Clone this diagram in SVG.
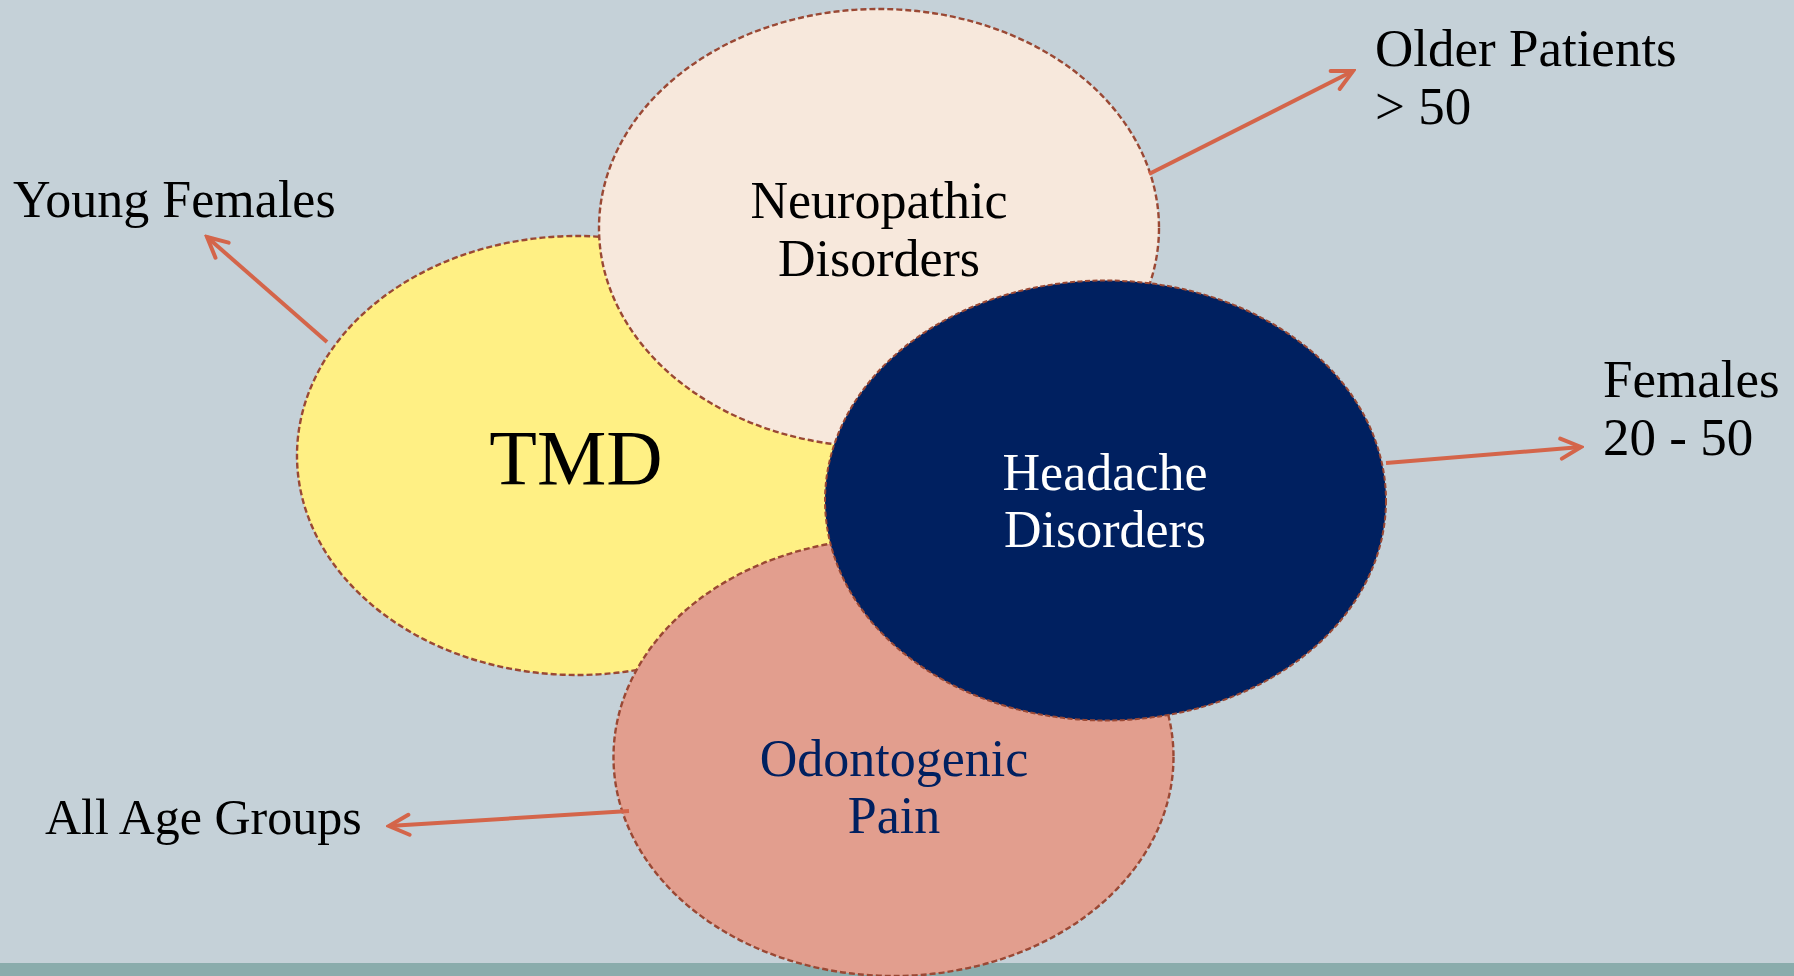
<svg xmlns="http://www.w3.org/2000/svg" width="1794" height="976" viewBox="0 0 1794 976">
  <defs>
    <style>
      .ell { stroke: #9a4834; stroke-width: 2.4; stroke-dasharray: 6 3; }
      .txt { font-family: "Liberation Serif", "Times New Roman", serif; font-size: 52px; fill: #000; }
      .mid { text-anchor: middle; }
      .conn { stroke: #d4654a; stroke-width: 4; fill: none; marker-end: url(#arr); }
    </style>
    <marker id="arr" markerUnits="userSpaceOnUse" markerWidth="26" markerHeight="26" viewBox="0 0 26 26" refX="23" refY="13" orient="auto">
      <path d="M3,3 L23,13 L3,23" fill="none" stroke="#d4654a" stroke-width="4" stroke-linecap="round" stroke-linejoin="miter"/>
    </marker>
  </defs>
  <rect x="0" y="0" width="1794" height="976" fill="#c5d1d8"/>
  <rect x="0" y="963" width="1794" height="13" fill="#8aacac"/>

  <g id="tmd">
    <ellipse class="ell" cx="577" cy="455.5" rx="280" ry="219.5" fill="#fff084"/>
    <text class="txt mid" x="576" y="484" style="font-size:78px">TMD</text>
  </g>
  <g id="neuropathic">
    <ellipse class="ell" cx="879" cy="228" rx="280" ry="219" fill="#f7e8dc"/>
    <text class="txt mid" x="879" y="218">Neuropathic</text>
    <text class="txt mid" x="879" y="276">Disorders</text>
  </g>
  <g id="odontogenic">
    <ellipse class="ell" cx="893.5" cy="757" rx="280" ry="219" fill="#e29e8e"/>
    <text class="txt mid" x="894" y="776" style="fill:#002060">Odontogenic</text>
    <text class="txt mid" x="894" y="833" style="fill:#002060">Pain</text>
  </g>
  <g id="headache">
    <ellipse class="ell" cx="1105.5" cy="500.5" rx="280.5" ry="220" fill="#002060" style="stroke-width:2;stroke-dasharray:5 2.5"/>
    <text class="txt mid" x="1105" y="490" style="fill:#ffffff">Headache</text>
    <text class="txt mid" x="1105" y="547" style="fill:#ffffff">Disorders</text>
  </g>

  <g id="labels">
    <text class="txt" x="13" y="217">Young Females</text>
    <text class="txt" x="1375" y="66" style="font-size:53px">Older Patients</text>
    <text class="txt" x="1375" y="124" style="font-size:53px">&gt; 50</text>
    <text class="txt" x="1603" y="397" style="font-size:53px">Females</text>
    <text class="txt" x="1603" y="455" style="font-size:53px">20 - 50</text>
    <text class="txt" x="45" y="834" style="font-size:50px">All Age Groups</text>
  </g>

  <g id="connectors">
    <line class="conn" x1="327" y1="342" x2="207" y2="237"/>
    <line class="conn" x1="1149" y1="174" x2="1353" y2="71"/>
    <line class="conn" x1="1386" y1="463" x2="1581" y2="447"/>
    <line class="conn" x1="629" y1="811" x2="389" y2="826"/>
  </g>
</svg>
